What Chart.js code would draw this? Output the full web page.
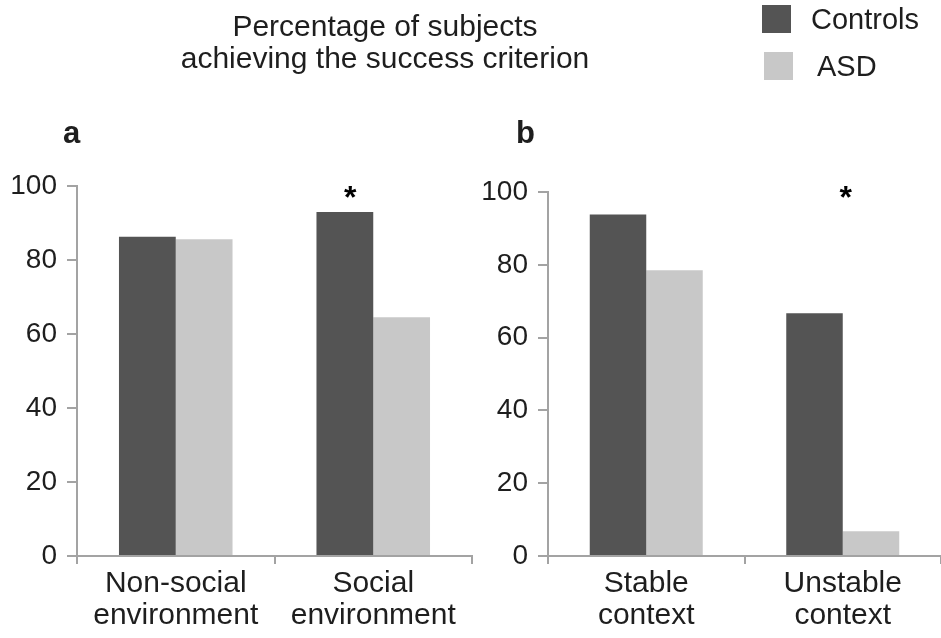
<!DOCTYPE html>
<html><head><meta charset="utf-8">
<script src="https://cdn.jsdelivr.net/npm/chart.js@4/dist/chart.umd.min.js"></script>
<style>
body{margin:0;width:941px;height:638px;position:relative;background:#fff;font-family:"Liberation Sans",Arial,sans-serif;color:#1e1e1e;overflow:hidden}
.t{position:absolute;white-space:nowrap}
canvas{position:absolute;top:0}
.sw{position:absolute}
</style></head><body>
<canvas id="ca" width="480" height="638" style="left:0"></canvas>
<canvas id="cb" width="461" height="638" style="left:480px"></canvas>
<div class="t" id="title" style="left:135px;top:10px;width:500px;text-align:center;font-size:30px;line-height:32px"></div>
<div class="t" id="la" style="left:63px;top:117px;font-size:31px;line-height:31px;font-weight:bold">a</div>
<div class="t" id="lb" style="left:516px;top:117px;font-size:31px;line-height:31px;font-weight:bold">b</div>
<div id="legend"></div>
<script>
// ---- data ----
const titleLines = ['Percentage of subjects', 'achieving the success criterion'];
const seriesNames = ['Controls', 'ASD'];
const categoriesA = [['Non-social', 'environment'], ['Social', 'environment']];
const controlsA = [86.3, 93.0];
const asdA = [85.6, 64.5];
const categoriesB = [['Stable', 'context'], ['Unstable', 'context']];
const controlsB = [93.8, 66.7];
const asdB = [78.5, 6.8];
const yTicks = [0, 20, 40, 60, 80, 100];
const starsA = [1];   // category index marked significant
const starsB = [1];

// ---- style ----
const FONT = '"Liberation Sans", Arial, sans-serif';
const COLORS = ['#545454', '#c8c8c8'];
const AXIS = '#a3a3a3';
const TEXT = '#1e1e1e';

document.getElementById('title').innerHTML = titleLines.join('<br>');
const legendPos = [{sx:762, sy:5, tx:811, ty:5}, {sx:764, sy:52, tx:817, ty:52}];
const lg = document.getElementById('legend');
seriesNames.forEach((n, i) => {
  const p = legendPos[i];
  const s = document.createElement('div');
  s.className = 'sw';
  s.style.cssText = `left:${p.sx}px;top:${p.sy}px;width:29px;height:28px;background:${COLORS[i]}`;
  lg.appendChild(s);
  const t = document.createElement('div');
  t.className = 't';
  t.style.cssText = `left:${p.tx}px;top:${p.ty}px;font-size:29px;line-height:29px`;
  t.textContent = n;
  lg.appendChild(t);
});

const starPlugin = {
  id: 'stars',
  afterDatasetsDraw(chart, args, opts) {
    const {ctx, scales: {x, y}} = chart;
    ctx.save();
    ctx.font = 'bold 32px ' + FONT;
    ctx.fillStyle = '#000';
    ctx.textAlign = 'center';
    ctx.textBaseline = 'alphabetic';
    opts.items.forEach(idx => {
      const cx = x.getPixelForValue(idx) + opts.dx;
      const cy = y.getPixelForValue(opts.level) + 0.56 * 32;
      ctx.fillText('*', cx, cy);
    });
    ctx.restore();
  }
};

function makeChart(id, cats, c, a, stars, yWidth, padTop, padRight, starDx, starLevel) {
  return new Chart(document.getElementById(id), {
    type: 'bar',
    data: {
      labels: cats,
      datasets: [
        {label: seriesNames[0], data: c, backgroundColor: COLORS[0], borderWidth: 0, categoryPercentage: 0.575, barPercentage: 1},
        {label: seriesNames[1], data: a, backgroundColor: COLORS[1], borderWidth: 0, categoryPercentage: 0.575, barPercentage: 1}
      ]
    },
    options: {
      responsive: false,
      animation: false,
      layout: {padding: {top: padTop, right: padRight, left: 0, bottom: 0}},
      plugins: {legend: {display: false}, tooltip: {enabled: false}, stars: {items: stars, dx: starDx, level: starLevel}},
      scales: {
        x: {
          grid: {offset: true, drawOnChartArea: false, drawTicks: true, tickLength: 8, color: AXIS, lineWidth: 2},
          border: {display: true, color: AXIS, width: 2},
          ticks: {font: {size: 30, family: FONT, lineHeight: 1.09}, color: TEXT, padding: 3, maxRotation: 0, autoSkip: false},
          afterFit(s) { s.height = 82; }
        },
        y: {
          min: 0, max: 100,
          afterBuildTicks(s) { s.ticks = yTicks.map(v => ({value: v})); },
          grid: {drawOnChartArea: false, drawTicks: true, tickLength: 10, color: AXIS, lineWidth: 2},
          border: {display: true, color: AXIS, width: 2},
          ticks: {font: {size: 28, family: FONT}, color: TEXT, padding: 10},
          afterFit(s) { s.width = yWidth; }
        }
      }
    },
    plugins: [starPlugin]
  });
}

makeChart('ca', categoriesA, controlsA, asdA, starsA, 77, 186, 8, -23, 98.9);
makeChart('cb', categoriesB, controlsB, asdB, starsB, 68, 192, 0, 3, 100.5);
</script>
</body></html>
